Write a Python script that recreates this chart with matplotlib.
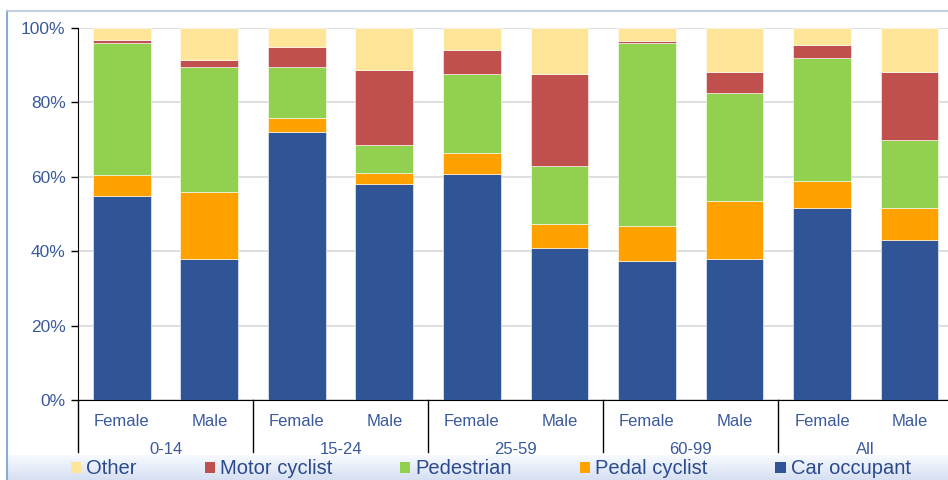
import numpy as np
import matplotlib
matplotlib.use("Agg")
import matplotlib.pyplot as plt
from matplotlib.patches import Patch
from matplotlib.lines import Line2D
import matplotlib.transforms as mtransforms

plt.rcParams['font.family'] = ['Liberation Sans', 'DejaVu Sans']

# data (percent of casualties per group, stacked bottom to top)
groups = ['0-14', '15-24', '25-59', '60-99', 'All']
sexes = ['Female', 'Male']
car_occupant = [54.8, 37.8, 72.0, 58.0, 60.7, 40.9, 37.5, 37.8, 51.7, 42.9]
pedal_cyclist = [5.7, 18.2, 3.7, 2.9, 5.8, 6.3, 9.2, 15.7, 7.1, 8.6]
pedestrian = [35.5, 33.4, 13.8, 7.6, 21.1, 15.6, 49.3, 29.1, 33.1, 18.4]
motor_cyclist = [0.8, 2.0, 5.4, 20.1, 6.6, 24.9, 0.5, 5.6, 3.5, 18.2]
other = [3.2, 8.6, 5.1, 11.4, 5.8, 12.3, 3.5, 11.8, 4.6, 11.9]

series = [
    ('Car occupant', car_occupant, '#2f5597'),
    ('Pedal cyclist', pedal_cyclist, '#ffa200'),
    ('Pedestrian', pedestrian, '#92d050'),
    ('Motor cyclist', motor_cyclist, '#c0504d'),
    ('Other', other, '#ffe597'),
]

blue_txt = '#3a5a9c'
legend_txt = '#2b4a8e'

fig = plt.figure(figsize=(9.48, 4.8), dpi=100)

# frame and legend band
band = fig.add_axes([7 / 948, 0, 1 - 7 / 948, 25 / 480], zorder=0)
grad = np.linspace(0, 1, 50).reshape(-1, 1)
c_top = np.array([0.97, 0.98, 1.0])
c_bot = np.array([0.84, 0.88, 0.95])
img = c_top[None, None, :] * (1 - grad[:, :, None]) + c_bot[None, None, :] * grad[:, :, None]
band.imshow(img, aspect='auto', extent=[0, 1, 0, 1])
band.set_axis_off()
fig.add_artist(Line2D([6.5 / 948, 6.5 / 948], [0, 1 - 11 / 480], color='#8eaad6', lw=1.5))
fig.add_artist(Line2D([6.5 / 948, 1], [1 - 11 / 480, 1 - 11 / 480], color='#b8c6de', lw=1.2))

ax = fig.add_axes([78 / 948, 1 - 400 / 480, 1 - 78 / 948, 372 / 480], zorder=2)
x = np.arange(len(car_occupant))
bottom = np.zeros(len(x))
for name, vals, col in series:
    ax.bar(x, vals, 0.66, bottom=bottom, color=col, edgecolor='white', linewidth=0.4, zorder=3)
    bottom += np.array(vals)

ax.set_xlim(-0.5, 9.44)
ax.set_ylim(0, 100)
ax.set_yticks(np.arange(0, 101, 20))
ax.set_yticklabels(['%d%%' % v for v in range(0, 101, 20)])
ax.yaxis.grid(True, color='#d9d9d9', lw=1.2, zorder=0)
ax.set_axisbelow(True)
ax.set_xticks(x)
ax.set_xticklabels(sexes * len(groups))
ax.tick_params(axis='x', length=0, pad=10, labelsize=12, labelcolor=blue_txt)
ax.tick_params(axis='y', length=5, width=1, color='black', direction='out', labelsize=12.5,
               labelcolor=blue_txt, pad=4)
for s in ['top', 'right']:
    ax.spines[s].set_visible(False)
ax.spines['left'].set_color('black')
ax.spines['bottom'].set_color('black')

trans = mtransforms.blended_transform_factory(ax.transData, ax.transAxes)
for b in [-0.5, 1.5, 3.5, 5.5, 7.5]:
    ax.plot([b, b], [0, -0.14], color='black', lw=1, transform=trans, clip_on=False)
for i, g in enumerate(groups):
    ax.text(2 * i + 0.5, -0.132, g, transform=trans, ha='center', va='center',
            fontsize=12, color=blue_txt)

# legend in reference order
handles = [Patch(facecolor=col, edgecolor='none', label=name) for name, vals, col in series[::-1]]
leg = fig.legend(handles=handles, loc='center left', bbox_to_anchor=(71 / 948, 1 - 469 / 480), ncol=5,
                 frameon=False, fontsize=14.5, handlelength=0.5, handleheight=0.5,
                 handletextpad=0.25, columnspacing=3.38, borderaxespad=0, borderpad=0)
for t in leg.get_texts():
    t.set_color(legend_txt)

fig.savefig('out.png', dpi=100)
